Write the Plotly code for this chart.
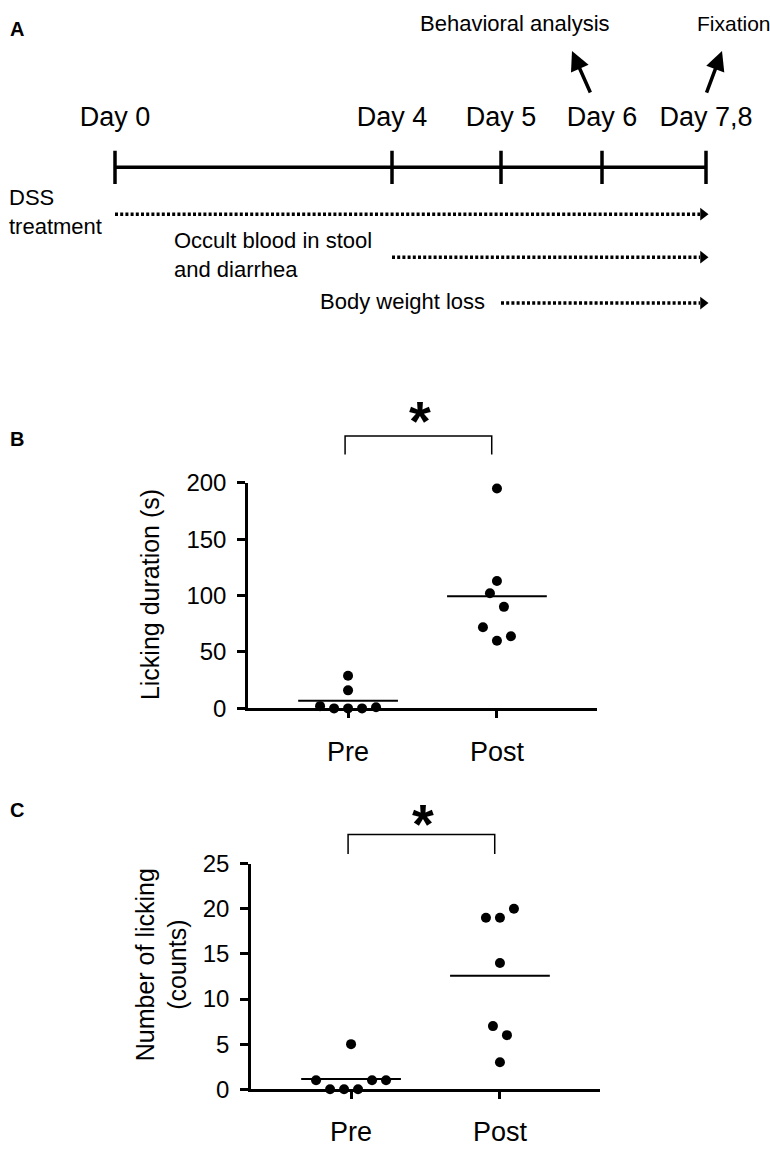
import numpy as np
import plotly.graph_objects as go

W, H = 770, 1156
FONT = "Liberation Sans, Arial, sans-serif"

# ---- panel A: timeline schematic ----
day_labels = ["Day 0", "Day 4", "Day 5", "Day 6", "Day 7,8"]
day_pos = [115, 392, 501, 602, 706]          # schematic positions along the bar
events = ["DSS<br>treatment", "Occult blood in stool<br>and diarrhea", "Body weight loss"]
event_start = [0, 1, 2]                      # index of the day each event starts
event_label_x = [7, 172, 318]
event_row_y = [205, 249, 296]
milestones = ["Behavioral analysis", "Fixation"]
milestone_day = [3, 4]

# ---- panel B: licking duration (s) ----
groups = ["Pre", "Post"]
dur_pre = [2, 0, 0, 0, 1, 16, 29]
dur_pre_jit = [-2, -1, 0, 1, 2, 0, 0]
dur_post = [195, 113, 102, 90, 72, 64, 60]
dur_post_jit = [0, 0, -0.5, 0.5, -1, 1, 0]
dur_ticks = [0, 50, 100, 150, 200]

# ---- panel C: number of licking (counts) ----
cnt_pre = [1, 0, 0, 0, 1, 1, 5]
cnt_pre_jit = [-2.5, -1.5, -0.5, 0.5, 1.5, 2.5, 0]
cnt_post = [19, 19, 20, 14, 7, 6, 3]
cnt_post_jit = [-1, 0, 1, 0, -0.5, 0.5, 0]
cnt_ticks = [0, 5, 10, 15, 20, 25]

STEP = 0.094   # horizontal spacing of overlapping dots
HALF = 0.335   # half width of the mean bar


def px(p):
    return p / W


def py(p):
    return 1 - p / H


fig = go.Figure()

# timeline bar with tick marks
tx, ty = [day_pos[0], day_pos[-1], None], [157, 157, None]
for p in day_pos:
    tx += [p, p, None]
    ty += [140, 174, None]
fig.add_trace(go.Scatter(x=tx, y=ty, mode="lines", xaxis="x3", yaxis="y3",
                         line=dict(color="black", width=3.5), hoverinfo="skip"))
fig.add_trace(go.Scatter(x=day_pos, y=[108] * len(day_pos), mode="text",
                         text=day_labels, xaxis="x3", yaxis="y3",
                         textfont=dict(family=FONT, size=27, color="black")))

# dotted event arrows
for lab, s, lx, ry in zip(events, event_start, event_label_x, event_row_y):
    fig.add_trace(go.Scatter(x=[day_pos[s], day_pos[-1] - 6], y=[ry, ry], mode="lines",
                             xaxis="x3", yaxis="y3", hoverinfo="skip",
                             line=dict(color="black", width=3.5, dash="3px,2.2px")))
    fig.add_trace(go.Scatter(x=[day_pos[-1] - 3], y=[ry], mode="markers",
                             xaxis="x3", yaxis="y3", hoverinfo="skip",
                             marker=dict(symbol="triangle-right", size=11, color="black")))
    fig.add_annotation(x=lx, y=ry - 2, xref="x3", yref="y3", text=lab, showarrow=False,
                       xanchor="left", yanchor="middle", align="left",
                       font=dict(family=FONT, size=22, color="black"))

# milestone arrows (tail near the day label, head pointing to the text)
tail_dx = [-11, 0]
head_dx = [-30, 16]
m_text_x = [515, 695]
m_anchor = ["center", "left"]
m_size = [22, 21]
for lab, d, t, h, mx, anc, fs in zip(milestones, milestone_day, tail_dx, head_dx,
                                     m_text_x, m_anchor, m_size):
    fig.add_annotation(x=day_pos[d] + h, y=38, ax=day_pos[d] + t, ay=82,
                       xref="x3", yref="y3", axref="x3", ayref="y3", text="",
                       showarrow=True, arrowhead=2, arrowsize=1.1, arrowwidth=3.5,
                       arrowcolor="black")
    fig.add_annotation(x=mx, y=10, xref="x3", yref="y3", text=lab, showarrow=False,
                       xanchor=anc, yanchor="middle",
                       font=dict(family=FONT, size=fs, color="black"))


def add_panel(xa, ya, pre, pre_jit, post, post_jit):
    for i, (vals, jit) in enumerate([(pre, pre_jit), (post, post_jit)]):
        xs = [i + j * STEP for j in jit]
        fig.add_trace(go.Scatter(x=xs, y=vals, mode="markers", xaxis=xa, yaxis=ya,
                                 cliponaxis=False,
                                 marker=dict(color="black", size=10)))
        m = float(np.mean(vals))
        fig.add_trace(go.Scatter(x=[i - HALF, i + HALF], y=[m, m], mode="lines",
                                 xaxis=xa, yaxis=ya, line=dict(color="black", width=2)))


add_panel("x", "y", dur_pre, dur_pre_jit, dur_post, dur_post_jit)
add_panel("x2", "y2", cnt_pre, cnt_pre_jit, cnt_post, cnt_post_jit)

xcommon = dict(range=[-0.672, 1.672], tickvals=[0, 1], ticktext=groups, showline=True,
               linecolor="black", linewidth=2.5, ticks="outside", ticklen=7, tickwidth=2.5,
               tickcolor="black", showgrid=False, zeroline=False, fixedrange=True,
               ticklabelstandoff=10,
               tickfont=dict(family=FONT, size=27, color="black"))
ycommon = dict(showline=True, linecolor="black", linewidth=2.5, ticks="outside",
               ticklen=8, tickwidth=2.5, tickcolor="black", showgrid=False,
               zeroline=False, fixedrange=True, ticklabelstandoff=6,
               tickfont=dict(family=FONT, size=24, color="black"))

fig.update_layout(
    width=W, height=H, margin=dict(l=0, r=0, t=0, b=0),
    paper_bgcolor="white", plot_bgcolor="white", showlegend=False,
    xaxis=dict(domain=[px(248), px(597)], anchor="y", **xcommon),
    yaxis=dict(domain=[py(711), py(480)], anchor="x", range=[0, 200],
               tickvals=dur_ticks, **ycommon),
    xaxis2=dict(domain=[px(251), px(600)], anchor="y2", **xcommon),
    yaxis2=dict(domain=[py(1101), py(870)], anchor="x2", range=[0, 25],
                tickvals=cnt_ticks, **ycommon),
    xaxis3=dict(domain=[0, 1], anchor="y3", range=[0, W], visible=False, fixedrange=True),
    yaxis3=dict(domain=[py(320), 1], anchor="x3", range=[320, 0], visible=False,
                fixedrange=True),
)

# significance brackets and stars
for xr, top, bot, star_y in [("x", 432, 451, 416), ("x2", 840, 860, 829)]:
    fig.add_shape(type="path", xref=xr, yref="paper",
                  path=f"M -0.02,{py(bot)} L -0.02,{py(top)} L 0.965,{py(top)} L 0.965,{py(bot)}",
                  line=dict(color="black", width=1.5))
    fig.add_annotation(x=0.48, y=py(star_y), xref=xr, yref="paper", text="<b>*</b>",
                       showarrow=False, xanchor="center", yanchor="middle",
                       font=dict(family=FONT, size=56, color="black"))

# axis titles
fig.add_annotation(x=px(150), y=py(595), xref="paper", yref="paper",
                   text="Licking duration (s)", textangle=-90, showarrow=False,
                   xanchor="center", yanchor="middle",
                   font=dict(family=FONT, size=25, color="black"))
fig.add_annotation(x=px(161), y=py(974), xref="paper", yref="paper",
                   text="Number of licking<br>(counts)", textangle=-90, showarrow=False,
                   xanchor="center", yanchor="middle",
                   font=dict(family=FONT, size=25, color="black"))

# panel letters
for letter, yy in [("A", 15), ("B", 435), ("C", 815)]:
    fig.add_annotation(x=px(8), y=py(yy), xref="paper", yref="paper",
                       text=f"<b>{letter}</b>", showarrow=False, xanchor="left",
                       yanchor="middle", font=dict(family=FONT, size=20, color="black"))

fig.write_html("out.html", config={"displayModeBar": False},
               post_script="document.body.style.margin='0';document.body.style.overflow='hidden';")
